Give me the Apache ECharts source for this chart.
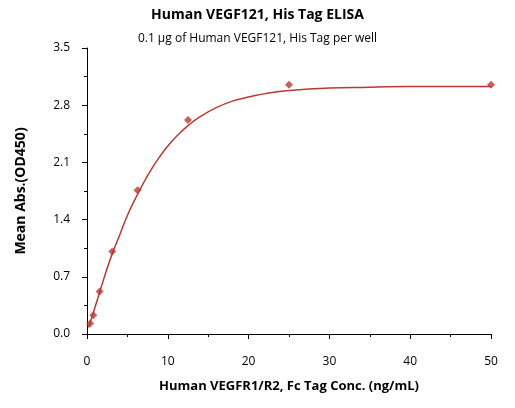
<!DOCTYPE html><html><head><meta charset="utf-8"><script src="https://cdn.jsdelivr.net/npm/echarts@6/dist/echarts.min.js"></script></head><body style="margin:0"><div id="c" style="width:515px;height:408px"></div><script>
const xPts=[0.39,0.78,1.56,3.125,6.25,12.5,25,50];
const yPts=[0.13,0.23,0.52,1.01,1.76,2.62,3.05,3.05];
const xFit=[0.2,1,2,3,4,5,6,7,8,9,10,11,12.5,14,16,18,20,22.5,25,30,35,40,45,50];
const yFit=[0.08,0.33,0.65,0.95,1.2,1.45,1.66,1.85,2.02,2.17,2.3,2.41,2.55,2.66,2.77,2.85,2.9,2.95,2.98,3.01,3.02,3.03,3.03,3.03];
const yTicks=[0,0.7,1.4,2.1,2.8,3.5];
const c=echarts.init(document.getElementById('c'));
const col='#b83a33';
c.setOption({
title:[{text:'Human VEGF121, His Tag ELISA',left:'center',top:3,textStyle:{fontFamily:'Open Sans',fontSize:14,fontWeight:'bold',color:'#000'}},
{text:'0.1 μg of Human VEGF121, His Tag per well',left:'center',top:28,textStyle:{fontFamily:'Open Sans',fontSize:12,fontWeight:'normal',color:'#000'}}],
grid:{left:87,right:24,top:48,bottom:74},
xAxis:{type:'value',min:0,max:50,interval:10,offset:14,name:'Human VEGFR1/R2, Fc Tag Conc. (ng/mL)',nameLocation:'middle',nameGap:32,
nameTextStyle:{fontFamily:'Open Sans',fontWeight:'bold',fontSize:13,color:'#000'},
axisLine:{lineStyle:{color:'#000'}},axisTick:{lineStyle:{color:'#000'}},minorTick:{show:true,splitNumber:2,lineStyle:{color:'#000'}},splitLine:{show:false},
axisLabel:{fontFamily:'Open Sans',fontSize:12,color:'#000'}},
yAxis:{type:'value',min:0,max:3.5,interval:0.7,offset:9,name:'Mean Abs.(OD450)',nameLocation:'middle',nameGap:50,
nameTextStyle:{fontFamily:'Open Sans',fontWeight:'bold',fontSize:14,color:'#000'},
axisLine:{show:true,lineStyle:{color:'#000'}},axisTick:{show:true,lineStyle:{color:'#000'}},minorTick:{show:true,splitNumber:2,lineStyle:{color:'#000'}},splitLine:{show:false},
axisLabel:{fontFamily:'Open Sans',fontSize:12,color:'#000',formatter:v=>{const t=yTicks.find(a=>Math.abs(a-v)<1e-6);return t===undefined?'':t.toFixed(1);}}},
series:[{type:'line',data:xFit.map((x,i)=>[x,yFit[i]]),smooth:true,showSymbol:false,lineStyle:{color:col,width:1.5},z:1},
{type:'scatter',data:xPts.map((x,i)=>[x,yPts[i]]),symbol:'diamond',symbolSize:8,itemStyle:{color:col},z:2}]
});
</script></body></html>
